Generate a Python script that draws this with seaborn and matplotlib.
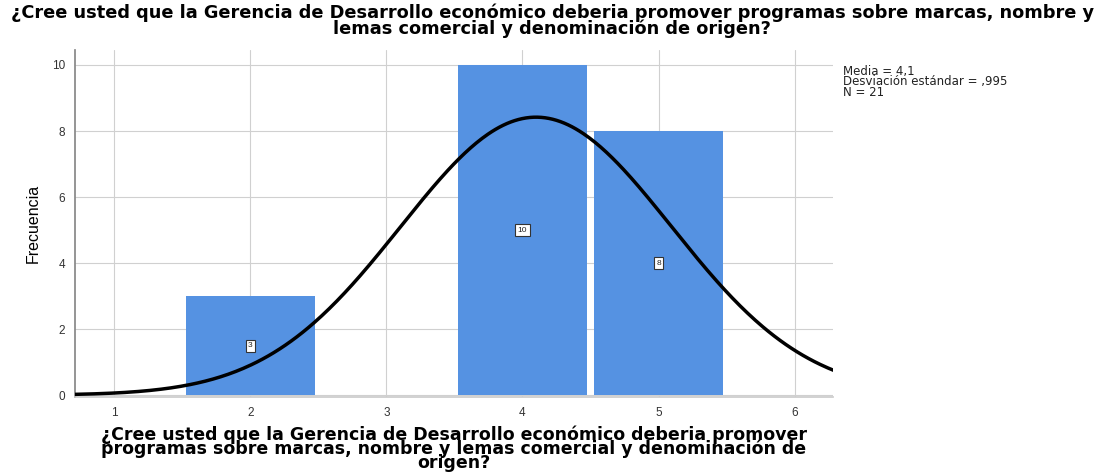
import numpy as np
import pandas as pd
import matplotlib
matplotlib.use("Agg")
import matplotlib.pyplot as plt
import seaborn as sns

# Data
categories = [2, 4, 5]
counts = [3, 10, 8]
mean_val = 4.1
sd_val = 0.995
n_val = 21
x_ticks = [1, 2, 3, 4, 5, 6]
y_ticks = [0, 2, 4, 6, 8, 10]

title = ("¿Cree usted que la Gerencia de Desarrollo económico deberia promover programas sobre marcas, nombre y\n"
         "lemas comercial y denominación de origen?")
xlabel = ("¿Cree usted que la Gerencia de Desarrollo económico deberia promover\n"
          "programas sobre marcas, nombre y lemas comercial y denominación de\norigen?")
ylabel = "Frecuencia"
stats_text = "Media = 4,1\nDesviación estándar = ,995\nN = 21"

sns.set_theme(style="white")
plt.rcParams['font.family'] = ['Liberation Sans', 'DejaVu Sans']

fig = plt.figure(figsize=(11, 4.73), dpi=100)
ax = fig.add_axes([0.068, 0.161, 0.689, 0.733])

df = pd.DataFrame({"x": categories, "y": counts})
bar_color = "#5592e2"
sns.barplot(data=df, x="x", y="y", native_scale=True, width=0.95,
            color=bar_color, saturation=1, edgecolor="none", ax=ax, zorder=2)

# Fitted normal curve
xs = np.linspace(0.7, 6.3, 400)
ys = n_val * 1.0 / (sd_val * np.sqrt(2 * np.pi)) * np.exp(-0.5 * ((xs - mean_val) / sd_val) ** 2)
sns.lineplot(x=xs, y=ys, color="black", linewidth=2.5, ax=ax, zorder=4)

# bar labels
for c, v in zip(categories, counts):
    ax.text(c, v / 2, str(v), ha="center", va="center", fontsize=6, color="#222222", zorder=5,
            bbox=dict(boxstyle="square,pad=0.3", facecolor="white", edgecolor="#333333", linewidth=0.8))

ax.set_xlim(0.71, 6.28)
ax.set_ylim(-0.05, 10.45)
ax.set_xticks(x_ticks)
ax.set_yticks(y_ticks)
ax.tick_params(axis="both", labelsize=8.5, colors="#333333", length=0, pad=7)
ax.grid(True, color="#d0d0d0", linewidth=0.8, zorder=0)
ax.set_axisbelow(True)
for s in ["top", "right"]:
    ax.spines[s].set_visible(False)
ax.spines["left"].set_color("#888888")
ax.spines["bottom"].set_color("#cccccc")

ax.set_xlabel(xlabel, fontsize=12.5, fontweight="bold", family="DejaVu Sans", color="black",
              linespacing=0.7, labelpad=5)
ax.set_ylabel(ylabel, fontsize=11.5, fontstretch="condensed", color="black", labelpad=8)

fig.text(0.502, 0.992, title, ha="center", va="top", fontsize=12.8, fontweight="bold",
         family="DejaVu Sans", color="black", linespacing=0.78)
fig.text(0.766, 0.862, stats_text, ha="left", va="top", fontsize=8.5, color="#222222",
         family="DejaVu Sans", linespacing=0.72)

fig.savefig("out.png", dpi=100)
